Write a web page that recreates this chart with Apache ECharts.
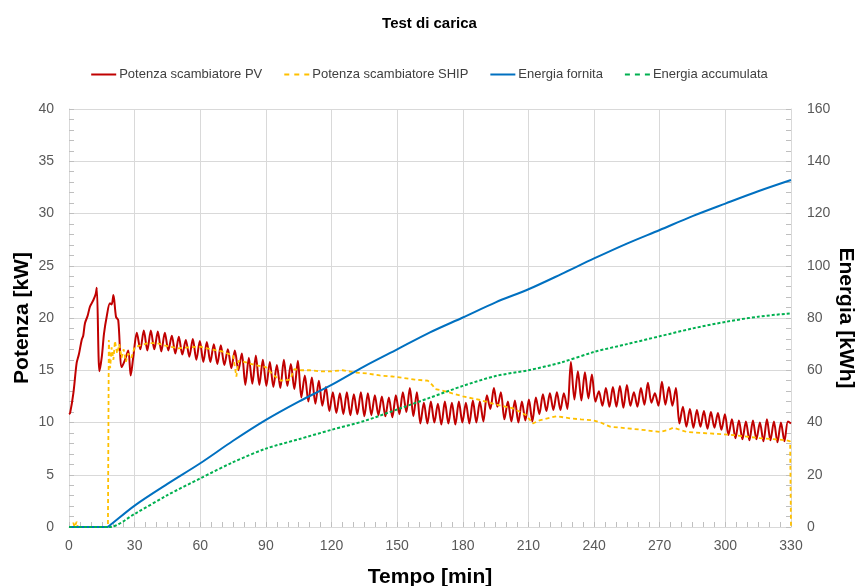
<!DOCTYPE html>
<html>
<head>
<meta charset="utf-8">
<script src="https://cdn.jsdelivr.net/npm/echarts@6/dist/echarts.min.js"></script>
<style>
  html, body { margin: 0; padding: 0; background: #fff; }
  #chart { width: 859px; height: 586px; }
</style>
</head>
<body>
<div id="chart"></div>
<script>
// Potenza scambiatore PV [kW] - start-up transient, [min, kW]
const pvStart = [
  [0, 10.8], [0.5, 10.9], [2, 12.8], [3.5, 15.7], [4.5, 16.5], [5.8, 17.9], [6.5, 18.3],
  [7.3, 19.5], [8.5, 20.2], [9.6, 21.1], [11.1, 21.7], [12.2, 22.3], [12.7, 22.9],
  [13.9, 14.9], [15, 16.3], [16, 18.5], [17.2, 20.1], [18.7, 21.4], [19.5, 21.3],
  [20.3, 22.2], [21.5, 20.1], [22.5, 19.8], [24.1, 15.3], [25.6, 16.0], [27.1, 16.9],
  [28.2, 14.5], [29.4, 16.3]
];
// oscillating part, one value every pvStep minutes from pvT0 (peak / trough)
const pvT0 = 31;
const pvStep = 1.6;
const pvOsc = [
  18.6, 17.0, 18.8, 16.9, 18.8, 17.0, 18.7, 16.8, 18.6, 16.9,
  18.3, 16.6, 18.2, 16.5, 17.9, 16.3, 18.0, 16.0, 17.8, 15.8,
  17.7, 15.8, 17.5, 15.6, 17.4, 15.5, 17.0, 15.2, 16.9, 15.0,
  16.6, 13.6, 16.2, 13.7, 16.4, 13.6, 16.0, 13.5, 15.8, 13.4,
  15.5, 13.3, 16.0, 13.5, 15.6, 13.2, 15.9, 12.4, 14.5, 12.0,
  14.3, 11.8, 14.0, 11.6, 13.4, 11.1, 12.9, 10.9, 12.8, 10.8,
  12.9, 10.7, 12.7, 10.8, 12.9, 10.6, 12.8, 10.7, 12.6, 10.7,
  12.5, 10.6, 12.4, 10.5, 12.6, 10.8, 12.9, 11.0, 13.3, 10.6,
  12.9, 9.9, 11.9, 9.9, 12.0, 10.0, 11.8, 9.8, 12.0, 9.9,
  11.9, 9.8, 12.0, 10.0, 11.9, 9.9, 12.1, 10.0, 12.0, 10.1,
  12.6, 11.3, 13.3, 11.5, 12.9, 10.3, 12.0, 10.1, 12.1, 10.0,
  12.0, 10.2, 12.2, 10.1, 12.4, 10.8, 12.7, 11.1, 12.8, 11.2,
  12.9, 11.2, 12.8, 11.3, 15.8, 12.2, 14.9, 12.1, 14.8, 12.3,
  14.6, 12.0, 13.0, 11.6, 13.3, 11.5, 13.4, 11.5, 13.5, 11.4,
  13.6, 11.6, 12.9, 11.5, 13.3, 11.7, 13.8, 11.9, 12.8, 11.6,
  13.9, 11.7, 13.4, 11.6, 13.3, 9.9, 11.5, 9.6, 11.3, 9.5,
  11.2, 9.6, 11.1, 9.4, 11.0, 9.5, 10.9, 9.3, 10.8, 8.8,
  10.3, 8.5, 10.2, 8.4, 10.1, 8.3, 10.2, 8.4, 10.0, 8.2,
  10.3, 8.3, 10.1, 8.1, 10.0, 8.2, 10.1
];
const pvEnd = [[330, 9.9]];

// Potenza scambiatore SHIP [kW]
const ship = [
  [0, 0], [1.5, 0], [2, 0.4], [2.5, 0], [3.5, 0.5], [4, 0], [17.8, 0], [18.2, 17.9],
  [18.8, 15.2], [19.5, 17.2], [20.3, 16.0], [21, 17.8], [22, 16.6], [23, 17.5],
  [24, 16.2], [25, 17.0], [26, 15.8], [27, 16.6], [28.5, 16.2], [30, 17.2], [33, 17.4],
  [36, 17.6], [40, 17.6], [45, 17.3], [50, 17.1], [55, 17.2], [60, 17.25], [65, 17.0],
  [70, 16.8], [75, 16.4], [76.5, 14.4], [77.5, 15.9], [80, 15.8], [85, 15.5], [90, 15.3],
  [93, 14.6], [97, 14.0], [101, 14.1], [103, 15.1], [106, 15.0], [110, 15.0], [115, 14.9],
  [120, 14.9], [125, 15.0], [130, 14.8], [136, 14.7], [142, 14.5], [148, 14.4], [152, 14.3],
  [158, 14.1], [164, 14.0], [166, 13.6], [167.5, 13.2], [172.6, 12.95], [180, 12.5],
  [188, 12.15], [195.5, 11.7], [203, 11.35], [209, 10.7], [212, 9.9], [215, 10.2],
  [222.8, 10.6], [229, 10.4], [234, 10.3], [239.6, 10.2], [243, 10.0], [247.3, 9.6],
  [255, 9.45], [262, 9.3], [270, 9.1], [274, 9.3], [276.2, 9.5], [282.3, 9.1], [293, 8.95],
  [303.6, 8.8], [315.8, 8.5], [322, 8.4], [328, 8.3], [329.6, 8.2], [330, 0]
];

// Energia fornita [kWh]
const fornita = [
  [0, 0], [17.5, 0], [18.5, 0.5], [30, 8.2], [45, 16.5], [60, 24.4], [75, 33], [90, 41],
  [105, 48], [120, 54.4], [135, 61.5], [150, 68], [165, 74.5], [180, 80.2], [195, 86],
  [210, 91], [225, 96.8], [240, 102.8], [255, 108.5], [270, 113.7], [285, 119], [300, 123.8],
  [315, 128.5], [330, 132.8]
];

// Energia accumulata [kWh]
const accumulata = [
  [0, 0], [18.5, 0], [30, 5], [45, 12.2], [60, 18.6], [75, 24.8], [90, 30], [105, 33.6],
  [120, 37.2], [135, 40.6], [150, 45], [165, 49.5], [180, 54], [195, 57.8], [210, 60],
  [225, 63], [240, 67], [255, 70], [270, 73], [285, 76], [300, 78.5], [315, 80.5],
  [330, 81.8]
];

const pvData = pvStart
  .concat(pvOsc.map((v, i) => [pvT0 + i * pvStep, v]))
  .concat(pvEnd);

const font = 'Liberation Sans';
const gridColor = '#d9d9d9';
const tickColor = '#bfbfbf';
const labelStyle = { color: '#595959', fontSize: 14, fontFamily: font };
const solidIcon = 'path://M0,0h25v2h-25z';
const dashIcon = 'path://M0,0h5v2h-5z M10,0h5v2h-5z M20,0h5v2h-5z';

function axisCommon(extra) {
  return Object.assign({
    axisLine: { show: true, lineStyle: { color: gridColor } },
    axisTick: { show: true, inside: true, length: 5, lineStyle: { color: tickColor } },
    splitLine: { show: true, lineStyle: { color: gridColor } },
    nameLocation: 'middle',
    nameTextStyle: { fontFamily: font, fontWeight: 'bold', fontSize: 21, color: '#000' }
  }, extra);
}

const chart = echarts.init(document.getElementById('chart'));
chart.setOption({
  animation: false,
  title: {
    text: 'Test di carica',
    left: 'center',
    top: 11,
    textStyle: { fontFamily: font, fontWeight: 'bold', fontSize: 15, color: '#000' }
  },
  legend: {
    top: 63,
    left: 'center',
    itemWidth: 25,
    itemHeight: 2,
    itemGap: 22,
    symbolKeepAspect: false,
    textStyle: { fontFamily: font, fontSize: 13, color: '#404040', padding: [0, 0, 0, -2] },
    data: [
      { name: 'Potenza scambiatore PV', icon: solidIcon, itemStyle: { color: '#C00000' } },
      { name: 'Potenza scambiatore SHIP', icon: dashIcon, itemStyle: { color: '#FFC000' } },
      { name: 'Energia fornita', icon: solidIcon, itemStyle: { color: '#0070C0' } },
      { name: 'Energia accumulata', icon: dashIcon, itemStyle: { color: '#00B050' } }
    ]
  },
  grid: { left: 69, right: 68, top: 109, bottom: 59, containLabel: false, outerBoundsMode: 'none' },
  xAxis: axisCommon({
    type: 'value',
    min: 0, max: 330, interval: 30,
    name: 'Tempo [min]',
    nameGap: 40,
    minorTick: { show: true, splitNumber: 6, length: 5, lineStyle: { color: tickColor } },
    axisLabel: Object.assign({ margin: 12 }, labelStyle)
  }),
  yAxis: [
    axisCommon({
      type: 'value',
      min: 0, max: 40, interval: 5,
      name: 'Potenza [kW]',
      nameRotate: 90,
      nameGap: 36,
      nameMoveOverlap: false,
      minorTick: { show: true, splitNumber: 5, length: 5, lineStyle: { color: tickColor } },
      axisLabel: Object.assign({ margin: 15 }, labelStyle)
    }),
    axisCommon({
      type: 'value',
      min: 0, max: 160, interval: 20,
      position: 'right',
      name: 'Energia [kWh]',
      nameRotate: -90,
      nameGap: 44,
      nameMoveOverlap: false,
      splitLine: { show: false },
      minorTick: { show: true, splitNumber: 5, length: 5, lineStyle: { color: tickColor } },
      axisLabel: Object.assign({ margin: 16 }, labelStyle)
    })
  ],
  series: [
    {
      name: 'Potenza scambiatore PV',
      type: 'line',
      yAxisIndex: 0,
      symbol: 'none',
      smooth: 0.3,
      data: pvData,
      lineStyle: { color: '#C00000', width: 2 },
      itemStyle: { color: '#C00000' }
    },
    {
      name: 'Potenza scambiatore SHIP',
      type: 'line',
      yAxisIndex: 0,
      symbol: 'none',
      data: ship,
      lineStyle: { color: '#FFC000', width: 1.8, type: [4, 3] },
      itemStyle: { color: '#FFC000' }
    },
    {
      name: 'Energia fornita',
      type: 'line',
      yAxisIndex: 1,
      symbol: 'none',
      data: fornita,
      smooth: 0.3,
      lineStyle: { color: '#0070C0', width: 2 },
      itemStyle: { color: '#0070C0' }
    },
    {
      name: 'Energia accumulata',
      type: 'line',
      yAxisIndex: 1,
      symbol: 'none',
      data: accumulata,
      smooth: 0.3,
      lineStyle: { color: '#00B050', width: 2, type: [3, 2] },
      itemStyle: { color: '#00B050' }
    }
  ]
});
</script>
</body>
</html>
